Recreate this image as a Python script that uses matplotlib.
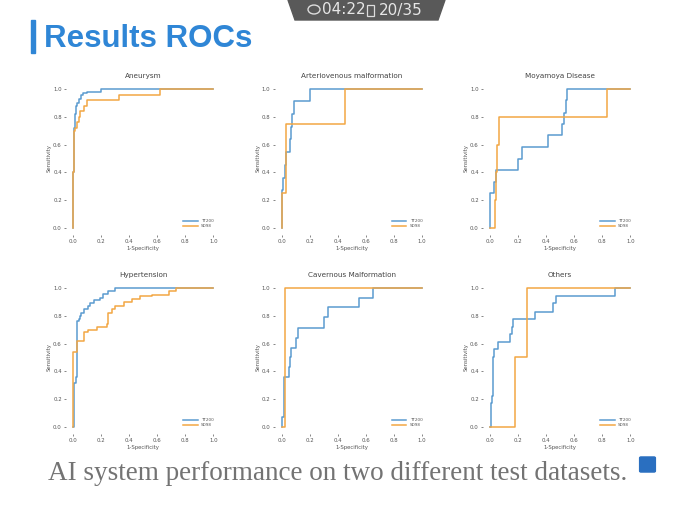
import matplotlib
matplotlib.use('Agg')
import matplotlib.pyplot as plt
from matplotlib.patches import Polygon, Rectangle, Circle, FancyBboxPatch

# panel titles
titles = ['Aneurysm', 'Arteriovenous malformation', 'Moyamoya Disease',
          'Hypertension', 'Cavernous Malformation', 'Others']
series_names = ['TT200', 'SD98']

# ROC breakpoints (fpr where tpr steps up, tpr level after the step)
tt200_fpr = [
    [0, 0, 0.005, 0.01, 0.015, 0.02, 0.03, 0.04, 0.06, 0.07, 0.1, 0.2, 1.0],
    [0, 0.005, 0.01, 0.025, 0.03, 0.06, 0.065, 0.075, 0.09, 0.2, 1.0],
    [0, 0, 0.03, 0.04, 0.2, 0.225, 0.415, 0.51, 0.525, 0.54, 0.545, 1.0],
    [0, 0.005, 0.02, 0.025, 0.04, 0.05, 0.06, 0.08, 0.11, 0.12, 0.15, 0.19, 0.21, 0.25, 0.3, 1.0],
    [0, 0, 0.015, 0.02, 0.05, 0.06, 0.07, 0.1, 0.12, 0.3, 0.33, 0.55, 0.65, 1.0],
    [0, 0.005, 0.01, 0.015, 0.02, 0.03, 0.06, 0.14, 0.155, 0.165, 0.32, 0.45, 0.47, 0.89, 1.0],
]
tt200_tpr = [
    [0, 0.4, 0.48, 0.72, 0.82, 0.88, 0.9, 0.93, 0.96, 0.97, 0.98, 1.0, 1.0],
    [0, 0.27, 0.36, 0.45, 0.55, 0.64, 0.73, 0.82, 0.91, 1.0, 1.0],
    [0, 0.25, 0.33, 0.42, 0.5, 0.58, 0.67, 0.75, 0.83, 0.92, 1.0, 1.0],
    [0, 0.32, 0.36, 0.76, 0.78, 0.8, 0.82, 0.85, 0.87, 0.89, 0.91, 0.93, 0.96, 0.98, 1.0, 1.0],
    [0, 0.07, 0.29, 0.36, 0.43, 0.5, 0.57, 0.64, 0.71, 0.79, 0.86, 0.93, 1.0, 1.0],
    [0, 0.06, 0.17, 0.22, 0.5, 0.56, 0.61, 0.67, 0.72, 0.78, 0.83, 0.89, 0.94, 1.0, 1.0],
]
sd98_fpr = [
    [0, 0, 0.01, 0.015, 0.025, 0.04, 0.05, 0.08, 0.1, 0.33, 0.62, 1.0],
    [0, 0, 0.03, 0.45, 1.0],
    [0, 0.035, 0.045, 0.05, 0.065, 0.83, 1.0],
    [0, 0, 0.025, 0.08, 0.11, 0.17, 0.24, 0.25, 0.28, 0.3, 0.36, 0.42, 0.48, 0.56, 0.68, 0.73, 1.0],
    [0, 0.025, 1.0],
    [0, 0.18, 0.26, 1.0],
]
sd98_tpr = [
    [0, 0.4, 0.7, 0.72, 0.76, 0.8, 0.84, 0.88, 0.92, 0.96, 1.0, 1.0],
    [0, 0.25, 0.75, 1.0, 1.0],
    [0, 0.2, 0.4, 0.6, 0.8, 1.0, 1.0],
    [0, 0.54, 0.62, 0.68, 0.7, 0.72, 0.74, 0.82, 0.85, 0.87, 0.9, 0.92, 0.94, 0.95, 0.98, 1.0, 1.0],
    [0, 1.0, 1.0],
    [0, 0.5, 1.0, 1.0],
]
ticks = [0.0, 0.2, 0.4, 0.6, 0.8, 1.0]

W, H = 694, 517
fig = plt.figure(figsize=(W / 100, H / 100), dpi=100)
fig.patch.set_facecolor('white')

def fx(px):
    return px / W

def fy(py):
    return 1 - py / H

col_left = [66, 274.5, 483]
row_top = [82, 281]
ax_w, ax_h = 154.5, 153
txt = '#555555'

for i, name in enumerate(titles):
    r, c = divmod(i, 3)
    ax = fig.add_axes([fx(col_left[c]), fy(row_top[r] + ax_h), ax_w / W, ax_h / H])
    ax.plot(tt200_fpr[i], tt200_tpr[i], drawstyle='steps-post', color='#5b9bd0',
            linewidth=1.1, label=series_names[0])
    ax.plot(sd98_fpr[i], sd98_tpr[i], drawstyle='steps-post', color='#f2a744',
            linewidth=1.1, label=series_names[1])
    ax.set_xlim(-0.05, 1.05)
    ax.set_ylim(-0.05, 1.05)
    ax.set_xticks(ticks)
    ax.set_yticks(ticks)
    for s in ax.spines.values():
        s.set_visible(False)
    ax.tick_params(labelsize=3.9, colors=txt, length=1.5, width=0.5, pad=1.5)
    ax.set_title(name, fontsize=5.2, color='#444444', pad=3)
    ax.set_xlabel('1-Specificity', fontsize=3.9, color=txt, labelpad=1)
    ax.set_ylabel('Sensitivity', fontsize=3.9, color=txt, labelpad=1)
    ax.legend(loc='lower right', fontsize=3, frameon=False, handlelength=3.5,
              labelspacing=0.3, borderaxespad=1.2, labelcolor=txt)

# slide title with blue bar
fig.patches.append(Rectangle((fx(31), fy(53)), 3.5 / W, 33 / H, transform=fig.transFigure,
                             color='#2f86d6', zorder=3))
fig.text(fx(44), fy(39), 'Results ROCs', fontsize=22.5, fontweight='bold',
         color='#2f86d6', va='center', ha='left', family='Liberation Sans')

# video timer overlay
overlay = Polygon([(fx(288), fy(0)), (fx(445), fy(0)), (fx(438), fy(20)),
                   (fx(295), fy(20))], closed=True, transform=fig.transFigure,
                  color='#595959', zorder=3)
fig.patches.append(overlay)
fig.patches.append(Circle((fx(314), fy(9.5)), 6 / W, transform=fig.transFigure,
                          fill=False, edgecolor='#dddddd', linewidth=1, zorder=4))
fig.text(fx(322), fy(10), '04:22', fontsize=11, color='#e6e6e6', va='center',
         ha='left', family='Liberation Sans Narrow', zorder=5)
fig.patches.append(Rectangle((fx(367), fy(16)), 7 / W, 11 / H, transform=fig.transFigure,
                             fill=False, edgecolor='#dddddd', linewidth=0.9, zorder=4))
fig.text(fx(379), fy(10), '20/35', fontsize=11, color='#e6e6e6', va='center',
         ha='left', family='Liberation Sans Narrow', zorder=5)

# caption
fig.text(fx(338), fy(473), 'AI system performance on two different test datasets.',
         fontsize=19.5, color='#737373', ha='center', va='center', family='Liberation Serif')
fig.patches.append(FancyBboxPatch((fx(641), fy(471)), 13 / W, 13 / H,
                                  boxstyle='round,pad=0.002', transform=fig.transFigure,
                                  color='#2a6fc0', zorder=3))

fig.savefig('out.png', dpi=100)
